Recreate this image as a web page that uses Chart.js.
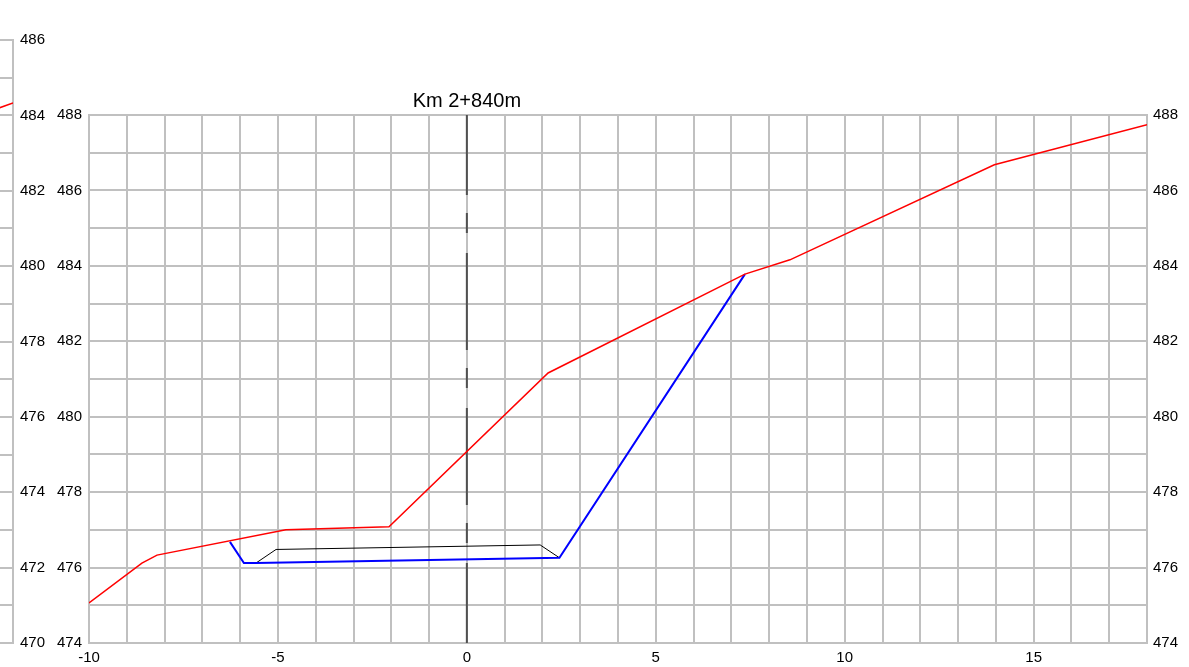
<!DOCTYPE html>
<html>
<head>
<meta charset="utf-8">
<script src="https://cdn.jsdelivr.net/npm/chart.js@4.4.0/dist/chart.umd.min.js"></script>
<style>
  html, body { margin: 0; padding: 0; background: #ffffff; overflow: hidden; }
  #wrap { position: relative; width: 1189px; height: 667px; }
  canvas { position: absolute; top: 0; }
  #main { left: 0; }
  #prev { left: 0; }
</style>
</head>
<body>
<div id="wrap">
  <canvas id="main" width="1189" height="667"></canvas>
  <canvas id="prev" width="60" height="667"></canvas>
</div>
<script>
// ---- Data ----
const sectionTitle = 'Km 2+840m';

// Terrain (red)
const groundX = [-10, -8.60, -8.20, -4.79, -2.06, 2.15, 7.36, 8.55, 13.96, 18.0];
const groundY = [475.06, 476.12, 476.33, 477.00, 477.08, 481.16, 483.78, 484.16, 486.68, 487.74];

// Design section / excavation (blue)
const designX = [-6.27, -5.90, -5.58, 2.45, 7.36];
const designY = [476.68, 476.12, 476.12, 476.26, 483.78];

// Pavement (black)
const paveX = [-5.58, -5.05, 1.94, 2.45];
const paveY = [476.12, 476.48, 476.60, 476.26];

// Axis line (centre)
const axisX = [0, 0];
const axisY = [488, 474];

// Previous section (cut off at the left edge)
const prevGroundX = [17.0, 18.0];
const prevGroundY = [483.97, 484.33];

// Ticks
const xMin = -10, xMax = 18, xLabelStep = 5;
const yMin = 474, yMax = 488, yLabelStep = 2;
const prevYMin = 470, prevYMax = 486;

const pts = (xs, ys) => xs.map((x, i) => ({ x: x, y: ys[i] }));

const FONT = "'Liberation Sans', Arial, sans-serif";
const GRID = '#c0c0c0';

Chart.defaults.font.family = FONT;
Chart.defaults.color = '#000000';
Chart.defaults.animation = false;

const titlePlugin = {
  id: 'sectionTitle',
  afterDraw(chart) {
    const ctx = chart.ctx;
    const xs = chart.scales.x;
    ctx.save();
    ctx.font = '20px ' + FONT;
    ctx.fillStyle = '#000';
    ctx.textAlign = 'center';
    ctx.textBaseline = 'alphabetic';
    ctx.fillText(sectionTitle, xs.getPixelForValue(0), 107);
    ctx.restore();
  }
};

new Chart(document.getElementById('main'), {
  type: 'line',
  data: {
    datasets: [
      { data: pts(groundX, groundY), borderColor: '#ff0000', borderWidth: 1.5, pointRadius: 0, tension: 0, yAxisID: 'y' },
      { data: pts(designX, designY), borderColor: '#0000ff', borderWidth: 2, pointRadius: 0, tension: 0, yAxisID: 'y' },
      { data: pts(paveX, paveY), borderColor: '#000000', borderWidth: 1, pointRadius: 0, tension: 0, yAxisID: 'y' },
      { data: pts(axisX, axisY), borderColor: '#505050', borderWidth: 2, borderDash: [97, 18, 20, 20], borderDashOffset: 17, pointRadius: 0, tension: 0, yAxisID: 'y' }
    ]
  },
  options: {
    responsive: false,
    animation: false,
    parsing: true,
    layout: { padding: { top: 115, left: 0, right: 0, bottom: 0 } },
    plugins: { legend: { display: false }, tooltip: { enabled: false }, title: { display: false } },
    scales: {
      x: {
        type: 'linear', min: xMin, max: xMax,
        afterFit(s) { s.height = 24; },
        grid: { color: GRID, lineWidth: 2, drawTicks: false },
        border: { color: GRID, width: 2 },
        ticks: {
          stepSize: 1, autoSkip: false, maxRotation: 0, padding: 6,
          font: { size: 15 },
          callback: v => (v % xLabelStep === 0 ? String(v) : '')
        }
      },
      y: {
        type: 'linear', position: 'left', min: yMin, max: yMax,
        afterFit(s) { s.width = 89; },
        grid: { color: GRID, lineWidth: 2, drawTicks: false },
        border: { color: GRID, width: 2 },
        ticks: {
          stepSize: 1, autoSkip: false, padding: 7,
          font: { size: 15 },
          callback: v => (v % yLabelStep === 0 ? String(v) : '')
        }
      },
      y2: {
        type: 'linear', position: 'right', min: yMin, max: yMax,
        afterFit(s) { s.width = 42; },
        grid: { display: false, drawTicks: false },
        border: { color: GRID, width: 2 },
        ticks: {
          stepSize: 1, autoSkip: false, padding: 6,
          font: { size: 15 },
          callback: v => (v % yLabelStep === 0 ? String(v) : '')
        }
      }
    }
  },
  plugins: [titlePlugin]
});

new Chart(document.getElementById('prev'), {
  type: 'line',
  data: {
    datasets: [
      { data: pts(prevGroundX, prevGroundY), borderColor: '#ff0000', borderWidth: 1.5, pointRadius: 0, tension: 0 }
    ]
  },
  options: {
    responsive: false,
    animation: false,
    layout: { padding: { top: 40, left: 0, right: 0, bottom: 24 } },
    plugins: { legend: { display: false }, tooltip: { enabled: false } },
    scales: {
      x: { type: 'linear', min: 17.656, max: 18, display: false },
      y: {
        type: 'linear', position: 'right', min: prevYMin, max: prevYMax,
        afterFit(s) { s.width = 47; },
        grid: { color: GRID, lineWidth: 2, drawTicks: false },
        border: { color: GRID, width: 2 },
        ticks: {
          stepSize: 1, autoSkip: false, padding: 7,
          font: { size: 15 },
          callback: v => (v % yLabelStep === 0 ? String(v) : '')
        }
      }
    }
  }
});
</script>
</body>
</html>
